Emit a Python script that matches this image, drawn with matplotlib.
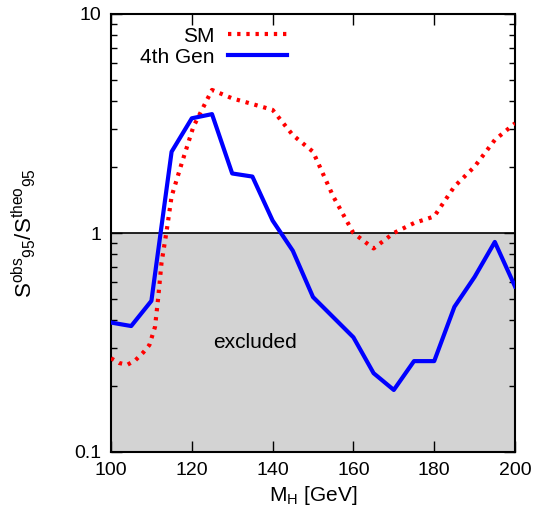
import numpy as np
import matplotlib
matplotlib.use('Agg')
import matplotlib.pyplot as plt
from matplotlib.ticker import FixedLocator, NullFormatter, LogLocator

plt.rcParams['font.family'] = ['Liberation Sans', 'DejaVu Sans']
plt.rcParams['mathtext.fontset'] = 'custom'
plt.rcParams['mathtext.rm'] = 'Liberation Sans'
plt.rcParams['mathtext.it'] = 'Liberation Sans'

# SM expected ratio
sm_mass = [100, 102, 104, 106, 108, 109.5, 110.9, 111.7, 112.5, 113.8, 115, 117.5, 120.4,
           125, 130, 135, 140, 145, 150, 155, 160, 165, 170, 175, 180, 185, 190, 195, 200]
sm_ratio = [0.268, 0.255, 0.25, 0.262, 0.285, 0.308, 0.373, 0.51, 0.73, 1.03, 1.47, 2.08, 3.06,
            4.5, 4.12, 3.88, 3.65, 2.8, 2.35, 1.47, 1.0, 0.85, 1.0, 1.11, 1.19, 1.63, 2.01, 2.66, 3.17]

# 4th generation ratio
gen4_mass = [100, 105, 110, 115, 120, 125, 130, 135, 140, 145, 150, 160, 165,
             170, 175, 180, 185, 190, 195, 200]
gen4_ratio = [0.39, 0.376, 0.49, 2.35, 3.34, 3.49, 1.87, 1.81, 1.14, 0.83, 0.51, 0.334, 0.229,
              0.192, 0.26, 0.26, 0.46, 0.63, 0.91, 0.57]

fig = plt.figure(figsize=(5.39, 5.16), dpi=100)
ax = fig.add_axes([111/539, 1-452/516, (515-111)/539, (452-14)/516])

ax.set_yscale('log')
ax.set_xlim(100, 200)
ax.set_ylim(0.1, 10)

ax.axhspan(0.1, 1, color='#d3d3d3', zorder=0)
ax.axhline(1, color='black', lw=1.2, zorder=1)

ax.plot(sm_mass, sm_ratio, color='red', lw=3, linestyle=(0, (0.8, 1.4)),
        dash_capstyle='butt', label='SM', zorder=3)
ax.plot(gen4_mass, gen4_ratio, color='blue', lw=3, label='4th Gen', zorder=4)

ax.text(135.6, 0.315, 'excluded', fontsize=15, ha='center', va='center')

ax.set_xticks([100, 120, 140, 160, 180, 200])
ax.yaxis.set_major_locator(FixedLocator([0.1, 1, 10]))
ax.set_yticklabels(['0.1', '1', '10'])
ax.yaxis.set_minor_locator(LogLocator(base=10, subs=np.arange(2, 10)))
ax.yaxis.set_minor_formatter(NullFormatter())
ax.tick_params(which='both', direction='in', top=True, right=True, labelsize=14, width=1)
ax.tick_params(which='major', length=8, pad=7)
ax.tick_params(which='minor', length=4)
for s in ax.spines.values():
    s.set_linewidth(1.5)

ax.set_xlabel('M$_{\\rm H}$ [GeV]', fontsize=15, labelpad=4)
ax.set_ylabel('S$^{\\rm obs}$$_{\\rm 95}$/S$^{\\rm theo}$$_{\\rm 95}$', fontsize=16)
ax.yaxis.set_label_coords(-0.18, 0.5)

ax.legend(loc='upper left', bbox_to_anchor=(0.04, 1.0), frameon=False, markerfirst=False,
          fontsize=15, handlelength=2.85, labelspacing=0.1, handletextpad=0.67,
          borderaxespad=0.2)

fig.savefig('out.png', dpi=100)
